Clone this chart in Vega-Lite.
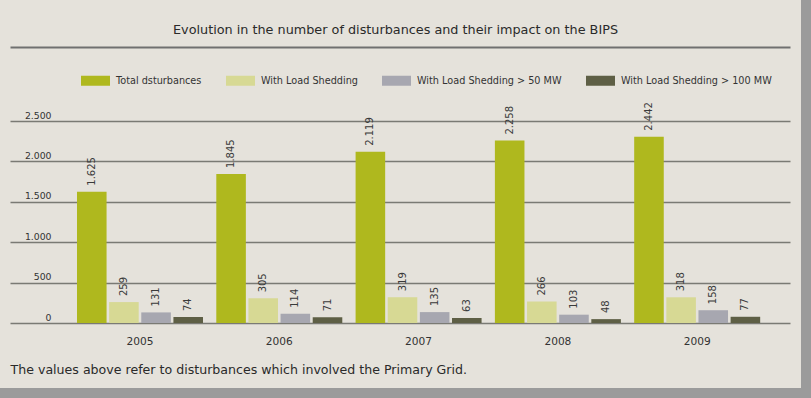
{
  "$schema": "https://vega.github.io/schema/vega-lite/v6.json",
  "width": 801,
  "height": 388,
  "autosize": {"type": "none"},
  "padding": {"left": 0, "top": 0, "right": 10, "bottom": 10},
  "background": "#9b9b9b",
  "config": {
    "view": {"fill": "#e5e2db", "stroke": null},
    "font": "DejaVu Sans"
  },
  "title": {
    "text": "Evolution in the number of disturbances and their impact on the BIPS",
    "anchor": "middle",
    "offset": -37,
    "dx": -5,
    "font": "DejaVu Sans",
    "fontSize": 12.8,
    "fontWeight": "normal",
    "color": "#2a2a2a"
  },
  "data": {
    "values": [
      {"year": "2005", "series": "Total dsturbances", "value": 1625, "label": "1.625"},
      {"year": "2005", "series": "With Load Shedding", "value": 259, "label": "259"},
      {"year": "2005", "series": "With Load Shedding > 50 MW", "value": 131, "label": "131"},
      {"year": "2005", "series": "With Load Shedding > 100 MW", "value": 74, "label": "74"},
      {"year": "2006", "series": "Total dsturbances", "value": 1845, "label": "1.845"},
      {"year": "2006", "series": "With Load Shedding", "value": 305, "label": "305"},
      {"year": "2006", "series": "With Load Shedding > 50 MW", "value": 114, "label": "114"},
      {"year": "2006", "series": "With Load Shedding > 100 MW", "value": 71, "label": "71"},
      {"year": "2007", "series": "Total dsturbances", "value": 2119, "label": "2.119"},
      {"year": "2007", "series": "With Load Shedding", "value": 319, "label": "319"},
      {"year": "2007", "series": "With Load Shedding > 50 MW", "value": 135, "label": "135"},
      {"year": "2007", "series": "With Load Shedding > 100 MW", "value": 63, "label": "63"},
      {"year": "2008", "series": "Total dsturbances", "value": 2258, "label": "2.258"},
      {"year": "2008", "series": "With Load Shedding", "value": 266, "label": "266"},
      {"year": "2008", "series": "With Load Shedding > 50 MW", "value": 103, "label": "103"},
      {"year": "2008", "series": "With Load Shedding > 100 MW", "value": 48, "label": "48"},
      {"year": "2009", "series": "Total dsturbances", "value": 2305, "label": "2.442"},
      {"year": "2009", "series": "With Load Shedding", "value": 318, "label": "318"},
      {"year": "2009", "series": "With Load Shedding > 50 MW", "value": 158, "label": "158"},
      {"year": "2009", "series": "With Load Shedding > 100 MW", "value": 77, "label": "77"}
    ]
  },
  "encoding": {
    "x": {
      "field": "year",
      "type": "nominal",
      "scale": {"range": [10, 790], "paddingInner": 0.0955, "paddingOuter": 0.3475, "align": 0.692}
    },
    "xOffset": {
      "field": "series",
      "type": "nominal",
      "sort": ["Total dsturbances", "With Load Shedding", "With Load Shedding > 50 MW", "With Load Shedding > 100 MW"],
      "scale": {"paddingInner": 0.08, "paddingOuter": 0}
    },
    "y": {
      "field": "value",
      "type": "quantitative",
      "scale": {"domain": [0, 2500], "range": [323, 121], "nice": false, "zero": true}
    }
  },
  "layer": [
    {
      "mark": {"type": "bar"},
      "encoding": {
        "x": {
          "field": "year",
          "type": "nominal",
          "axis": {
            "orient": "bottom",
            "labelAngle": 0,
            "ticks": false,
            "tickSize": 0,
            "domain": false,
            "grid": false,
            "offset": -52,
            "labelPadding": 0,
            "labelBaseline": "top",
            "labelFont": "DejaVu Sans",
            "labelFontSize": 10.6,
            "labelColor": "#333333",
            "title": "The values above refer to disturbances which involved the Primary Grid.",
            "titleAnchor": "start",
            "titleAlign": "left",
            "titleBaseline": "alphabetic",
            "titleY": 37,
            "titleFont": "DejaVu Sans",
            "titleFontSize": 12.6,
            "titleFontWeight": "normal",
            "titleColor": "#2a2a2a"
          }
        },
        "y": {
          "field": "value",
          "type": "quantitative",
          "axis": {
            "orient": "left",
            "values": [0, 500, 1000, 1500, 2000, 2500],
            "labelExpr": "replace(format(datum.value, ','), ',', '.')",
            "offset": -51,
            "ticks": false,
            "tickSize": 0,
            "domain": false,
            "labelPadding": 0,
            "labelBaseline": "alphabetic",
            "labelOffset": -3,
            "labelFont": "DejaVu Sans",
            "labelFontSize": 9.3,
            "labelColor": "#333333",
            "grid": true,
            "gridColor": "#7a7a74",
            "gridWidth": 1.6,
            "gridOpacity": 1,
            "title": null
          }
        },
        "color": {
          "field": "series",
          "type": "nominal",
          "scale": {
            "domain": ["Total dsturbances", "With Load Shedding", "With Load Shedding > 50 MW", "With Load Shedding > 100 MW"],
            "range": ["#afb81e", "#d7d994", "#a7a7b0", "#5e5f45"]
          },
          "legend": {
            "orient": "none",
            "legendX": 81,
            "legendY": 66,
            "direction": "horizontal",
            "title": null,
            "symbolType": "M-1,-0.345L1,-0.345L1,0.345L-1,0.345Z",
            "symbolSize": 841,
            "symbolStrokeWidth": 0,
            "symbolOpacity": 1,
            "labelFont": "DejaVu Sans",
            "labelFontSize": 9.7,
            "labelColor": "#333333",
            "labelOffset": 6,
            "columnPadding": 24,
            "labelLimit": 300
          }
        }
      }
    },
    {
      "mark": {
        "type": "text",
        "angle": 270,
        "align": "left",
        "baseline": "middle",
        "dx": 6,
        "font": "DejaVu Sans",
        "fontSize": 10,
        "color": "#3a3a3a"
      },
      "encoding": {
        "x": {
          "field": "year",
          "type": "nominal",
          "axis": {
            "orient": "top",
            "labels": false,
            "ticks": false,
            "grid": false,
            "domain": true,
            "domainColor": "#707070",
            "domainWidth": 2,
            "offset": -47,
            "title": null
          }
        },
        "text": {"field": "label", "type": "nominal"}
      }
    }
  ],
  "resolve": {"axis": {"x": "independent"}}
}
